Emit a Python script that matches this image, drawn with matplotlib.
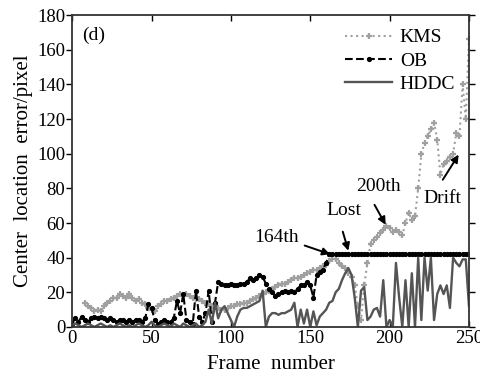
import matplotlib
matplotlib.use("Agg")
import matplotlib.pyplot as plt

# frame indices (every 2nd frame) and error values
frames = list(range(0, 251, 2))
kms_frames = list(range(8, 251, 2))

kms = [14, 12, 11, 9, 10, 9, 12, 14, 15, 17, 17, 19, 18, 17, 19, 17, 15, 16, 14, 13,
       11, 10, 9, 12, 13, 15, 15, 16, 17, 18, 19, 18, 19, 18, 17, 16, 16, 15, 14, 13,
       12, 12, 11, 10, 10, 11, 12, 12, 13, 13, 14, 14, 15, 16, 17, 18, 19, 20, 21, 22,
       23, 24, 25, 25, 26, 27, 28, 28, 29, 30, 31, 32, 33, 33, 34, 35, 36, 38, 39, 39,
       37, 35, 34, 31, 29, 24, 12, 4, 24, 37, 48, 50, 52, 54, 56, 58, 57, 55, 56, 55,
       53, 60, 66, 62, 64, 80, 100, 106, 110, 114, 118, 108, 88, 94, 96, 98, 100, 112,
       110, 140, 120, 166]

ob = [2, 5, 3, 6, 4, 3, 5, 6, 5, 6, 5, 4, 5, 4, 3, 4, 4, 3, 4, 3,
      4, 4, 3, 5, 13, 11, 4, 2, 3, 4, 3, 3, 5, 15, 8, 19, 4, 3, 2, 21,
      6, 3, 8, 21, 3, 14, 26, 25, 24, 24, 25, 24, 24, 25, 25, 26, 28, 27, 28, 30,
      29, 25, 22, 20, 18, 19, 20, 21, 20, 21, 20, 22, 24, 24, 26, 24, 17, 30, 32, 33,
      37, 42, 42, 42, 42, 42, 42, 42, 42, 42, 42, 42, 42, 42, 42, 42, 42, 42, 42, 42,
      42, 42, 42, 42, 42, 42, 42, 42, 42, 42, 42, 42, 42, 42, 42, 42, 42, 42, 42, 42,
      42, 42, 42, 42, 42, 42]

hddc = [1, 2, 1, 0, 1, 2, 1, 0, 1, 2, 1, 0, 1, 0, 1, 2, 1, 0, 1, 0,
        1, 2, 1, 0, 1, 3, 1, 0, 1, 2, 1, 0, 2, 1, 0, 2, 1, 0, 1, 2,
        0, 1, 3, 10, 2, 14, 5, 10, 12, 8, 4, 0, 6, 10, 11, 11, 12, 13, 14, 15,
        21, 0, 6, 8, 8, 7, 8, 8, 9, 10, 14, 0, 10, 2, 10, 0, 9, 1, 6, 8,
        10, 14, 15, 20, 22, 27, 31, 34, 30, 17, 0, 21, 23, 4, 6, 10, 11, 6, 27, 0,
        4, 0, 37, 17, 0, 27, 0, 31, 0, 40, 4, 40, 21, 40, 4, 19, 24, 19, 24, 11,
        40, 37, 35, 39, 39, 12]

# annotation labels: text, text position, arrow tail, arrow tip
notes = [("164th", (128.5, 51.5), (146.5, 47), (162.5, 42)),
         ("Lost", (171, 67), (170.5, 55), (174, 44)),
         ("200th", (192.7, 81), (190.5, 70.5), (197.5, 59)),
         ("Drift", (233, 74), (233.5, 85), (243.5, 99.5))]

plt.rcParams["font.family"] = ["Liberation Serif", "DejaVu Serif"]
plt.rcParams["font.size"] = 13.5

fig = plt.figure(figsize=(4.81, 3.78), dpi=100)
ax = fig.add_axes([0.150, 0.135, 0.825, 0.825])

ax.plot(kms_frames, kms, color="#a0a0a0", linestyle=":", linewidth=1.5,
        marker="+", markersize=5, markeredgewidth=1.6, label="KMS")
ax.plot(frames, ob, color="black", linestyle="--", linewidth=1.5,
        marker=".", markersize=5.5, label="OB")
ax.plot(frames, hddc, color="#555555", linestyle="-", linewidth=1.7, label="HDDC")

for label, txt_pos, tail, tip in notes:
    ax.text(txt_pos[0], txt_pos[1], label, ha="center", va="center", fontsize=14)
    ax.annotate("", xy=tip, xytext=tail,
                arrowprops=dict(arrowstyle="-|>", color="black", lw=1.4,
                                mutation_scale=11, shrinkA=0, shrinkB=0))

ax.text(0.025, 0.936, "(d)", transform=ax.transAxes, ha="left", va="center",
        fontsize=14)

ax.set_xlim(0, 250)
ax.set_ylim(0, 180)
ax.set_xticks([0, 50, 100, 150, 200, 250])
ax.set_yticks(range(0, 181, 20))
ax.set_xlabel("Frame  number", labelpad=6, fontsize=15)
ax.set_ylabel("Center  location  error/pixel", labelpad=3, fontsize=15)

ax.tick_params(axis="both", direction="in", length=4, width=1, top=True, right=True)
ax.tick_params(axis="y", direction="out", pad=1)
ax.tick_params(axis="x", pad=2)
for s in ax.spines.values():
    s.set_linewidth(1.3)
    s.set_color("#333333")

ax.legend(loc="upper right", frameon=False, handlelength=2.4, handletextpad=0.4,
          labelspacing=0.3, borderaxespad=0.3, fontsize=14)

fig.savefig("out.png", dpi=100)
